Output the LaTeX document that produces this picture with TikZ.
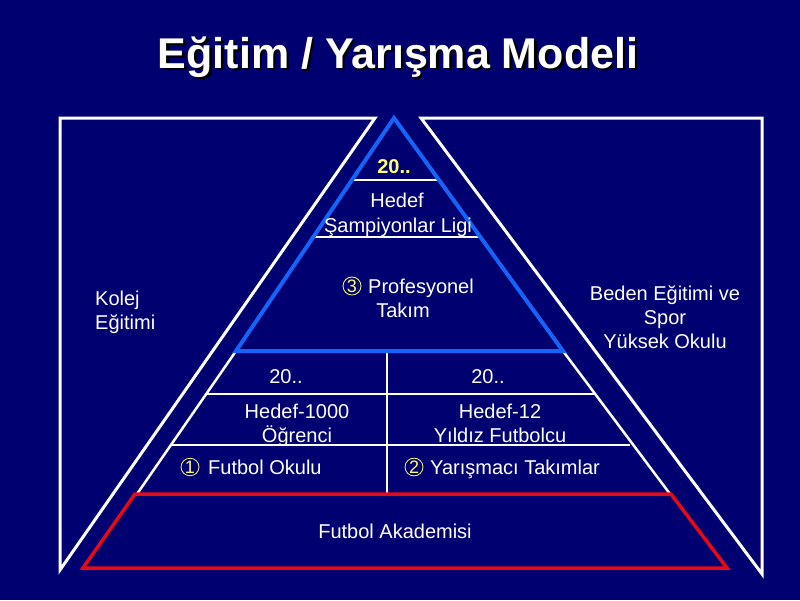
\documentclass[tikz,border=0pt]{standalone}
\usepackage{fontspec}
\setmainfont{Liberation Sans}
\definecolor{bg}{RGB}{0,0,112}
\definecolor{blueline}{RGB}{20,100,250}
\definecolor{redline}{RGB}{230,10,20}
\definecolor{yel}{RGB}{255,255,110}
\tikzset{
  outer/.style={draw=white, line width=3pt, line join=miter},
  bluetri/.style={draw=blueline, line width=4pt, line join=miter},
  redtrap/.style={draw=redline, line width=3.5pt, line join=miter},
  divline/.style={draw=white, line width=1.2pt},
  midline/.style={draw=white, line width=2.5pt},
  txt/.style={text=white, font=\fontsize{20}{24}\selectfont, inner sep=0pt, anchor=base},
  numc/.style={ellipse, draw=yel, line width=0.8pt, text=yel, inner sep=0pt, minimum width=18pt, minimum height=17pt, font=\fontsize{18}{18}\selectfont},
  ttl/.style={font=\fontsize{43}{48}\selectfont\bfseries, inner sep=0pt, anchor=base}
}
\usetikzlibrary{shapes.geometric}
\begin{document}
\begin{tikzpicture}[x=1pt,y=-1pt]
\fill[bg] (0,0) rectangle (800,600);
\useasboundingbox (0,0) rectangle (800,600);

% title
\node[ttl, text=black] (ttlsh) at (400.5,70.5) {Eğitim / Yarışma Modeli};
\node[ttl, text=white] (ttlmain) at (398,68) {Eğitim / Yarışma Modeli};

% coordinates
\coordinate (LA) at (60,118);
\coordinate (LB) at (375,118);
\coordinate (LC) at (60,570);
\coordinate (RA) at (421,118);
\coordinate (RB) at (762,118);
\coordinate (RC) at (762,574);
\coordinate (BT) at (394,118);
\coordinate (BL) at (236,351);
\coordinate (BR) at (563,351);
\coordinate (ML) at (137,494);
\coordinate (MR) at (670,494);
\coordinate (RTL) at (135,494);
\coordinate (RTR) at (671,494);
\coordinate (RBR) at (727,568);
\coordinate (RBL) at (83,568);
\coordinate (h1l) at (353,180);
\coordinate (h1r) at (438,180);
\coordinate (h2l) at (313,237);
\coordinate (h2r) at (480,237);
\coordinate (h3l) at (207,394);
\coordinate (h3r) at (594,394);
\coordinate (h4l) at (172,445);
\coordinate (h4r) at (630,445);
\coordinate (vt) at (387,351);
\coordinate (vb) at (387,494);

% outer white shapes
\draw[outer] (LA) -- (LB) -- (LC) -- cycle;
\draw[outer] (RA) -- (RB) -- (RC) -- cycle;

% lower section edges
\draw[midline] (BL) -- (ML);
\draw[midline] (BR) -- (MR);

% divider lines
\draw[divline] (h1l) -- (h1r);
\draw[divline] (h2l) -- (h2r);
\draw[divline] (h3l) -- (h3r);
\draw[divline] (h4l) -- (h4r);
\draw[midline] (vt) -- (vb);

% red trapezoid
\draw[redtrap] (RTL) -- (RTR) -- (RBR) -- (RBL) -- cycle;

% blue triangle
\draw[bluetri] (BT) -- (BR) -- (BL) -- cycle;

% texts in the top triangle
\node[txt, text=yel, font=\fontsize{20}{24}\selectfont\bfseries] (y20) at (394,173) {20..};
\node[txt] (hd1) at (397,207) {Hedef};
\node[txt] (hd2) at (398,232) {Şampiyonlar Ligi};
\node[numc] (c3) at (352,286) {3};
\node[txt, anchor=base west] (pro) at (368,293) {Profesyonel};
\node[txt] (tak) at (403,317) {Takım};

% side texts
\node[txt, anchor=base west] (kol1) at (95,305) {Kolej};
\node[txt, anchor=base west] (kol2) at (95,329) {Eğitimi};
\node[txt] (bed1) at (665,300) {Beden Eğitimi ve};
\node[txt] (bed2) at (665,324) {Spor};
\node[txt] (bed3) at (665,348) {Yüksek Okulu};

% lower section texts
\node[txt] (l20) at (286,383) {20..};
\node[txt] (r20) at (488,383) {20..};
\node[txt] (lh1) at (297,418) {Hedef-1000};
\node[txt] (lh2) at (297,442) {Öğrenci};
\node[txt] (rh1) at (500,418) {Hedef-12};
\node[txt] (rh2) at (500,442) {Yıldız Futbolcu};
\node[numc] (c1) at (190,467) {1};
\node[txt, anchor=base west] (fo) at (208,474) {Futbol Okulu};
\node[numc] (c2) at (414,467) {2};
\node[txt, anchor=base west] (yt) at (430,474) {Yarışmacı Takımlar};

% academy
\node[txt] (fa) at (395,538) {Futbol Akademisi};
\end{tikzpicture}
\end{document}
